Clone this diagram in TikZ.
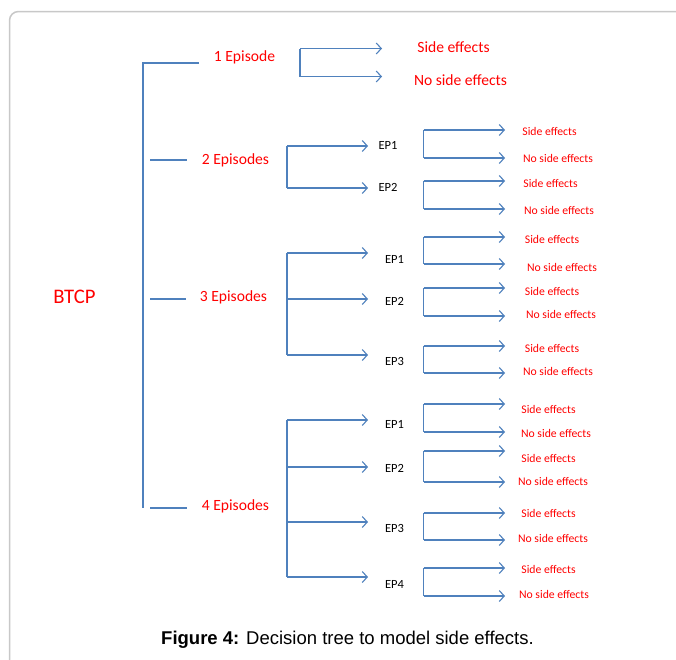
\documentclass[tikz,border=0pt]{standalone}
\usepackage{fontspec}
\setmainfont{Carlito}
\newfontfamily\arialfont{Liberation Sans}
\usetikzlibrary{arrows.meta}
\definecolor{lblue}{RGB}{79,129,189}
\definecolor{frame}{RGB}{200,200,200}
\begin{document}
\begin{tikzpicture}[x=1pt,y=-1pt,
  lvl/.style={text=red, font=\fontsize{15.6}{18}\selectfont, inner sep=0pt},
  leaf/.style={text=red, font=\fontsize{11.7}{14}\selectfont, inner sep=0pt},
  eplab/.style={text=black, font=\fontsize{12.5}{15}\selectfont, inner sep=0pt},
  ln/.style={draw=lblue, line width=1.2pt},
  arr/.style={ln, -{Straight Barb[length=5pt,width=11pt,line width=1.1pt]}}]
\clip (0,0) rectangle (676,659);
\fill[white] (0,0) rectangle (676,659);
% frame
\draw[frame, line width=1.5pt, rounded corners=9pt] (9.5,700) -- (9.5,11.5) -- (700,11.5);
% root
\node[text=red, font=\fontsize{20.7}{24}\selectfont, inner sep=0pt] (root) at (74.5,297) {BTCP};
\coordinate (rt) at (143,63);
\coordinate (rb) at (143,508);
\coordinate (r1) at (199,63);
\draw[ln] (r1) -- (rt) -- (rb);
% level-1 labels
\node[lvl] (e1) at (244.5,57) {1 Episode};
\node[lvl] (e2) at (235.5,160) {2 Episodes};
\node[lvl] (e3) at (233.5,297) {3 Episodes};
\node[lvl] (e4) at (235.5,506) {4 Episodes};
\coordinate (h2a) at (150,160); \coordinate (h2b) at (187,160);
\coordinate (h3a) at (150,299); \coordinate (h3b) at (186,299);
\coordinate (h4a) at (150,508); \coordinate (h4b) at (187,508);
\draw[ln] (h2a) -- (h2b);
\draw[ln] (h3a) -- (h3b);
\draw[ln] (h4a) -- (h4b);
% 1 Episode branch
\coordinate (b1t) at (300,48.5); \coordinate (b1b) at (300,76.5);
\coordinate (b1te) at (382,48.5); \coordinate (b1be) at (382,76.5);
\draw[ln] (b1t) -- (b1b);
\draw[arr] (b1t) -- (b1te);
\draw[arr] (b1b) -- (b1be);
\node[lvl] (se1) at (453.5,47.5) {Side effects};
\node[lvl] (nse1) at (460.5,80.5) {No side effects};
% 2 Episodes branch
\coordinate (b2t) at (287,146); \coordinate (b2b) at (287,188);
\draw[ln] (b2t) -- (b2b);
\coordinate (a21) at (368,146); \coordinate (a22) at (368,188);
\draw[arr] (b2t) -- (a21);
\draw[arr] (b2b) -- (a22);
\node[eplab] (ep21) at (388,145) {EP1};
\node[eplab] (ep22) at (388,187) {EP2};
% 3 Episodes branch
\coordinate (b3t) at (287,253); \coordinate (b3m) at (287,299); \coordinate (b3b) at (287,355);
\draw[ln] (b3t) -- (b3b);
\coordinate (a31) at (368,253); \coordinate (a32) at (368,299); \coordinate (a33) at (368,355);
\draw[arr] (b3t) -- (a31);
\draw[arr] (b3m) -- (a32);
\draw[arr] (b3b) -- (a33);
\node[eplab] (ep31) at (394.5,259) {EP1};
\node[eplab] (ep32) at (394.5,301) {EP2};
\node[eplab] (ep33) at (394.5,361) {EP3};
% 4 Episodes branch
\coordinate (b4t) at (287,420); \coordinate (b4m1) at (287,467); \coordinate (b4m2) at (287,522); \coordinate (b4b) at (287,577);
\draw[ln] (b4t) -- (b4b);
\coordinate (a41) at (368,420); \coordinate (a42) at (368,467); \coordinate (a43) at (368,522); \coordinate (a44) at (368,577);
\draw[arr] (b4t) -- (a41);
\draw[arr] (b4m1) -- (a42);
\draw[arr] (b4m2) -- (a43);
\draw[arr] (b4b) -- (a44);
\node[eplab] (ep41) at (394.5,424) {EP1};
\node[eplab] (ep42) at (394.5,468) {EP2};
\node[eplab] (ep43) at (394.5,528) {EP3};
\node[eplab] (ep44) at (394.5,584) {EP4};
% leaves
\foreach \n/\yt/\yb/\sx/\sy/\nx/\ny in {
  21/130/158/549.5/131/558/158,
  22/181/209/550.5/183/559/210,
  31/237/264/552/239/562/267,
  32/288/316/552/291/561/314,
  33/346/373/552/348/558/371,
  42/451/482/548.5/458/553/481,
  43/513/540/548.5/513/553/538,
  44/568/596/548.5/569/554/594}{
  \coordinate (s\n t) at (423.5,\yt);
  \coordinate (s\n b) at (423.5,\yb);
  \coordinate (s\n te) at (505,\yt);
  \coordinate (s\n be) at (505,\yb);
  \draw[ln] (s\n t) -- (s\n b);
  \draw[arr] (s\n t) -- (s\n te);
  \draw[arr] (s\n b) -- (s\n be);
  \node[leaf] (se\n) at (\sx,\sy) {Side effects};
  \node[leaf] (nse\n) at (\nx,\ny) {No side effects};
}
% 4E-EP1 leaf with clipped label
\coordinate (s41t) at (423.5,404); \coordinate (s41b) at (423.5,432);
\coordinate (s41te) at (505,404); \coordinate (s41be) at (505,432);
\draw[ln] (s41t) -- (s41b);
\draw[arr] (s41t) -- (s41te);
\draw[arr] (s41b) -- (s41be);
\node[leaf] (se41) at (548.5,409) {Side effects};
\begin{scope}
\clip (510,420) rectangle (610,436.3);
\node[leaf, anchor=base] (nse41) at (556,437) {No side effects};
\end{scope}
% caption
\node[inner sep=0pt, font=\arialfont\fontsize{18.5}{22}\selectfont] (cap) at (347.5,640) {\textbf{Figure 4:} Decision tree to model side effects.};
\end{tikzpicture}
\end{document}
